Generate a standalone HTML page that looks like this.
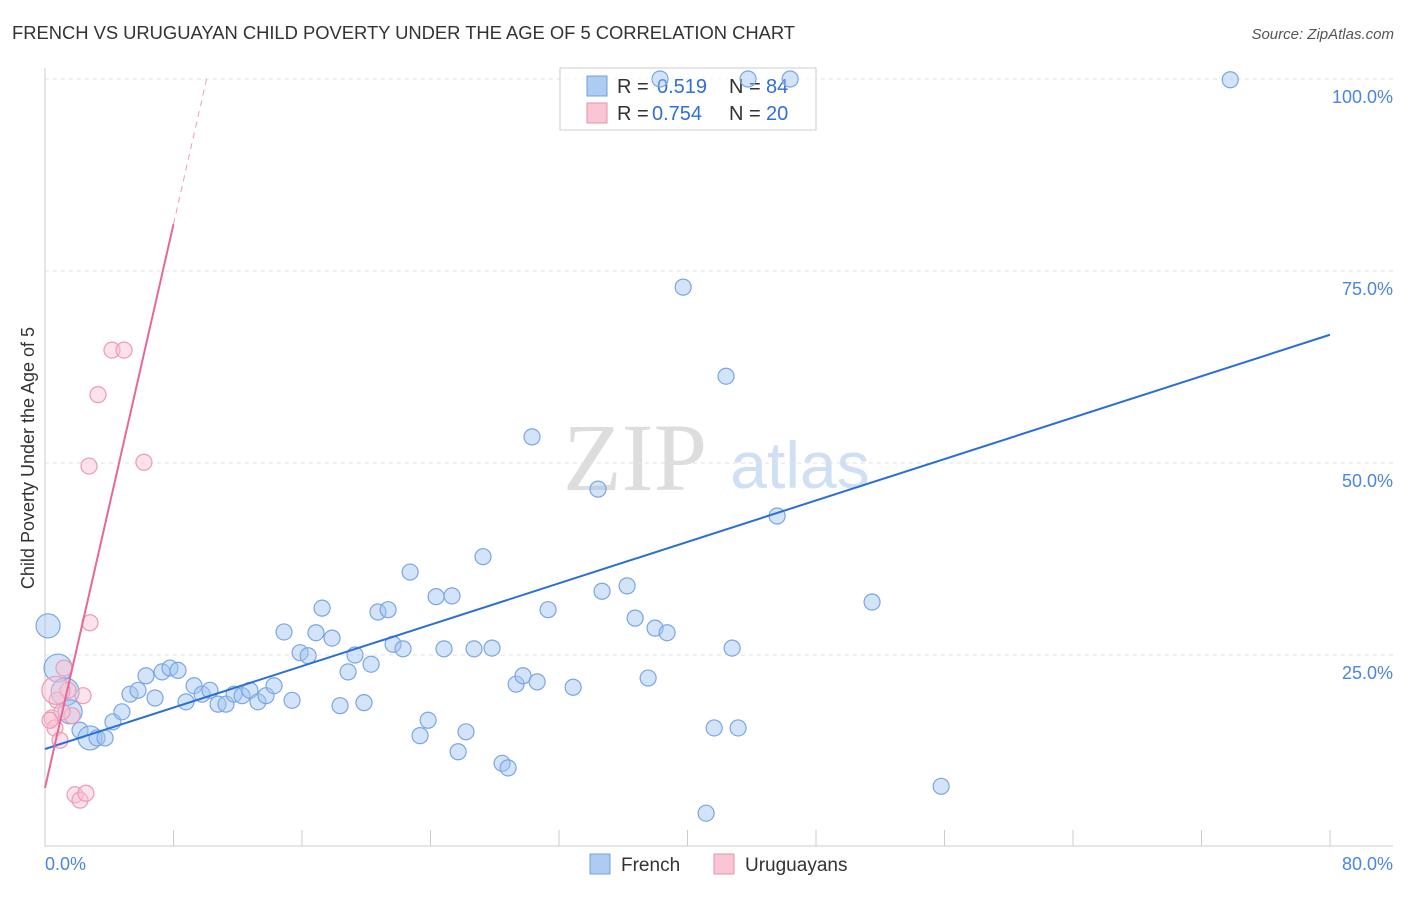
<!DOCTYPE html>
<html><head><meta charset="utf-8"><style>
body{margin:0;background:#fff;font-family:"Liberation Sans",sans-serif;}
svg text{font-family:"Liberation Sans",sans-serif;}
</style></head><body>
<svg id="c" width="1406" height="892">
<text x="12" y="39" font-size="18.4" fill="#333" textLength="783">FRENCH VS URUGUAYAN CHILD POVERTY UNDER THE AGE OF 5 CORRELATION CHART</text>
<text x="1394" y="39" font-size="15" fill="#555" text-anchor="end" font-style="italic">Source: ZipAtlas.com</text>
<text x="34" y="458" font-size="18" fill="#333" text-anchor="middle" transform="rotate(-90 34 458)">Child Poverty Under the Age of 5</text>
<g><text x="635" y="490" font-size="96" fill="#ddd" text-anchor="middle" style="font-family:'Liberation Serif',serif">ZIP</text><text x="800" y="488" font-size="66" fill="#cfe0f5" text-anchor="middle">atlas</text></g>
<g id="grid"></g>
<g>
<rect x="560" y="68" width="256" height="62" fill="rgba(255,255,255,0.7)" stroke="#ccc"/>
<rect x="587" y="76" width="20" height="20" fill="#aecbf1" stroke="#6f9fe0"/>
<rect x="587" y="103" width="20" height="20" fill="#f9c6d5" stroke="#ec8fab"/>
<text x="617" y="93" font-size="20" fill="#333">R =</text><text x="657" y="93" font-size="20" fill="#2f6fd6">0.519</text>
<text x="729" y="93" font-size="20" fill="#333">N =</text><text x="766" y="93" font-size="20" fill="#2f6fd6">84</text>
<text x="617" y="120" font-size="20" fill="#333">R =</text><text x="652" y="120" font-size="20" fill="#2f6fd6">0.754</text>
<text x="729" y="120" font-size="20" fill="#333">N =</text><text x="766" y="120" font-size="20" fill="#2f6fd6">20</text>
</g>
<g id="marks"></g><g id="lines"></g>
<g>
<rect x="590" y="854" width="20" height="20" fill="#aecbf1" stroke="#6f9fe0"/>
<text x="621" y="871" font-size="19" fill="#333">French</text>
<rect x="714" y="854" width="20" height="20" fill="#f9c6d5" stroke="#ec8fab"/>
<text x="745" y="871" font-size="19" fill="#333">Uruguayans</text>
</g>
</svg>
<script>
const frX=[0.19,0.81,1.25,1.56,2.18,2.8,3.24,3.74,4.23,4.79,5.29,5.79,6.29,6.85,7.29,7.78,8.28,8.78,9.28,9.78,10.27,10.77,11.27,11.77,12.27,12.76,13.26,13.76,14.26,14.88,15.38,15.88,16.38,16.87,17.25,17.87,18.37,18.87,19.3,19.86,20.3,20.73,21.36,21.67,22.29,22.73,23.35,23.85,24.35,24.84,25.34,25.72,26.21,26.71,27.27,27.83,28.46,28.83,29.33,29.76,30.64,31.32,30.32,32.88,34.43,34.68,36.24,36.74,37.55,37.98,38.73,39.73,41.16,41.66,42.4,42.78,43.15,45.58,51.49,55.79,73.79,38.29,43.77,46.39];
const frY=[28.8,23.3,20.2,17.6,15.2,14.2,14.2,14.2,16.3,17.6,19.9,20.4,22.3,19.4,22.8,23.3,23.0,18.9,21.0,19.9,20.4,18.6,18.6,19.9,19.7,20.4,18.9,19.7,21.0,28.0,19.1,25.3,24.9,27.9,31.1,27.2,18.4,22.8,25.0,18.8,23.8,30.6,30.9,26.4,25.8,35.8,14.5,16.5,32.6,25.8,32.7,12.4,15.0,25.8,37.8,25.9,10.9,10.3,21.2,22.3,21.5,30.9,53.4,20.8,46.6,33.3,34.0,29.8,22.0,28.5,27.9,72.9,4.4,15.5,61.3,25.9,15.5,43.1,31.9,7.9,99.9,100,100,100];
const uyX=[0.44,0.62,0.75,0.93,1.18,1.43,1.68,1.87,2.18,2.37,2.55,2.8,2.74,3.3,4.17,4.92,6.16,0.31,1.06,0.68];
const uyY=[16.8,15.5,19.1,13.9,23.3,20.4,17.1,6.8,6.1,19.7,7.0,29.2,49.6,58.9,64.7,64.7,50.1,16.5,17.6,20.4];
const frTrend=[12.76,66.7];
const uyTrend=[7.7,81.1];
const yTicks=[25,50,75,100];
const xTickLabels=["0.0%","80.0%"];
const NS="http://www.w3.org/2000/svg";
const X=v=>45+v*16.0625, Y=v=>847-v*7.68;
function mk(t,a,p){const e=document.createElementNS(NS,t);for(const k in a)e.setAttribute(k,a[k]);p.appendChild(e);return e;}
const g=document.getElementById('grid'),m=document.getElementById('marks'),l=document.getElementById('lines');
yTicks.forEach(t=>{
 const ln=mk('line',{x1:45,x2:1393,y1:Y(t),y2:Y(t),stroke:'#e2e2e2','stroke-dasharray':'4 4'},g);
 
 
 const tx=mk('text',{x:1393,y:Y(t)+24,'font-size':18,fill:'#4a86dc','text-anchor':'end'},g);tx.textContent=t.toFixed(1)+'%';
 
 
});
mk('line',{x1:45,x2:45,y1:68,y2:847,stroke:'#ccc'},g);
mk('line',{x1:45,x2:1393,y1:846,y2:846,stroke:'#ccc'},g);
for(let i=0;i<=10;i++){const t=mk('line',{x1:X(i*8),x2:X(i*8),y1:830,y2:846,stroke:'#ccc'},g);
 
 }
[[0,xTickLabels[0],'start',45],[80,xTickLabels[1],'end',1393]].forEach(d=>{const t=mk('text',{x:d[3],y:870,'font-size':18,fill:'#4a86dc','text-anchor':d[2]},g);t.textContent=d[1];
 
 });
const frBig={0:12,1:14,2:14,3:12,5:12};
frX.forEach((v,i)=>{const c=mk('circle',{cx:X(v),cy:Y(frY[i]),r:frBig[i]||8,fill:'rgba(160,195,240,0.45)',stroke:'#7aa6e4','stroke-width':1.2},m);
 
 });
uyX.forEach((v,i)=>{const c=mk('circle',{cx:X(v),cy:Y(uyY[i]),r:i==19?14:8,fill:'rgba(248,190,208,0.45)',stroke:'#ee9ab4','stroke-width':1.2},m);
 
 });
const fl=mk('line',{x1:X(0),y1:Y(frTrend[0]),x2:X(80),y2:Y(frTrend[1]),stroke:'#2a6fd8','stroke-width':2},l);


const sl=(uyTrend[1]-uyTrend[0])/8;
const ul=mk('line',{x1:X(0),y1:Y(uyTrend[0]),x2:X(8),y2:Y(uyTrend[1]),stroke:'#e8679a','stroke-width':2},l);


const xe=(100-uyTrend[0])/sl;
const ud=mk('line',{x1:X(8),y1:Y(uyTrend[1]),x2:X(xe),y2:Y(100),stroke:'#e8a0bb','stroke-width':1,'stroke-dasharray':'6 5'},l);


</script>
</body></html>
